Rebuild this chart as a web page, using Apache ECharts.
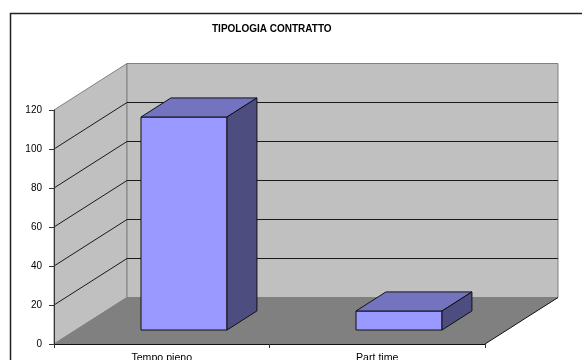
<!DOCTYPE html>
<html>
<head>
<meta charset="utf-8">
<script src="https://cdn.jsdelivr.net/npm/echarts@6/dist/echarts.min.js"></script>
<style>
  html, body { margin: 0; padding: 0; background: #fff; overflow: hidden; }
  #chart { width: 582px; height: 360px; }
</style>
</head>
<body>
<div id="chart"></div>
<script>
const categories = ['Tempo pieno', 'Part time'];
const values = [109, 10];
const yTicks = [0, 20, 40, 60, 80, 100, 120];

// offset of the back wall from the front plane
const depthX = 73;
const depthY = -46.5;
// bars sit 0.3 into the depth and take 0.4 of it
const barStart = 0.3;
const barDepth = 0.41;
const barWidth = 0.4;

function renderWalls(params, api) {
  const grid = params.coordSys;
  const left = grid.x;
  const right = grid.x + grid.width;
  const y0 = api.coord([0, 0])[1];
  const yTop = grid.y;
  const edge = { stroke: '#808080', lineWidth: 1 };
  return {
    type: 'group',
    children: [
      { type: 'polygon', shape: { points: [[left, y0], [left + depthX, y0 + depthY], [left + depthX, yTop + depthY], [left, yTop]] },
        style: { fill: '#c0c0c0', stroke: '#808080', lineWidth: 1 } },
      { type: 'rect', shape: { x: left + depthX, y: yTop + depthY, width: grid.width, height: y0 - yTop },
        style: { fill: '#c0c0c0', stroke: '#808080', lineWidth: 1 } },
      { type: 'polygon', shape: { points: [[left, y0], [right, y0], [right + depthX, y0 + depthY], [left + depthX, y0 + depthY]] },
        style: { fill: '#808080', stroke: 'none' } },
      { type: 'polyline', shape: { points: [[left, y0], [left + depthX, y0 + depthY], [right + depthX, y0 + depthY]] }, style: { fill: 'none', ...edge } },
      { type: 'line', shape: { x1: right, y1: y0, x2: right + depthX, y2: y0 + depthY }, style: { stroke: '#111', lineWidth: 1 } }
    ]
  };
}

function renderGridLine(params, api) {
  const grid = params.coordSys;
  const v = api.value(0);
  const y = Math.round(api.coord([0, v])[1]);
  const x = grid.x;
  return {
    type: 'polyline',
    shape: { points: [[x, y], [x + depthX, y + depthY], [x + grid.width + depthX, y + depthY]] },
    style: { fill: 'none', stroke: '#1a1a1a', lineWidth: 1 }
  };
}

function renderBar(params, api) {
  const center = api.coord([api.value(0), 0]);
  const top = api.coord([api.value(0), api.value(1)]);
  const w = api.size([1, 0])[0] * barWidth;
  const x0 = Math.round(center[0] - w / 2 + depthX * barStart);
  const x1 = Math.round(center[0] + w / 2 + depthX * barStart);
  const yb = Math.round(center[1] + depthY * barStart);
  const yt = Math.round(top[1] + depthY * barStart);
  const dx = depthX * barDepth;
  const dy = depthY * barDepth;
  const line = { stroke: '#111', lineWidth: 1, lineJoin: 'round' };
  return {
    type: 'group',
    children: [
      { type: 'rect', shape: { x: x0, y: yt, width: x1 - x0, height: yb - yt }, style: { fill: '#9999ff', ...line } },
      { type: 'polygon', shape: { points: [[x0, yt], [x1, yt], [x1 + dx, yt + dy], [x0 + dx, yt + dy]] }, style: { fill: '#7373bf', ...line } },
      { type: 'polygon', shape: { points: [[x1, yt], [x1 + dx, yt + dy], [x1 + dx, yb + dy], [x1, yb]] }, style: { fill: '#4d4d80', ...line } }
    ]
  };
}

let chart = echarts.init(document.getElementById('chart'), null, { renderer: 'canvas' });
let option = {
  animation: false,
  backgroundColor: '#fff',
  textStyle: { fontFamily: '"Liberation Sans", Arial, sans-serif' },
  title: {
    text: 'TIPOLOGIA CONTRATTO',
    left: 207,
    top: 19,
    textStyle: { fontFamily: '"Liberation Sans", Arial, sans-serif', fontSize: 10, fontWeight: 'bold', color: '#000' }
  },
  graphic: [
    { type: 'rect', z: 20, silent: true, shape: { x: 10.5, y: 13.5, width: 620, height: 400 },
      style: { fill: 'none', stroke: '#222', lineWidth: 1.5 } }
  ],
  grid: { left: 54, right: 97, top: 110, bottom: 16, outerBoundsMode: 'none' },
  xAxis: {
    type: 'category',
    data: categories,
    z: 5,
    axisLine: { lineStyle: { color: '#111', width: 1 } },
    axisTick: { show: true, length: 4, alignWithLabel: false, lineStyle: { color: '#333' } },
    axisLabel: { interval: 0, margin: 9, fontSize: 10.6, color: '#000' }
  },
  yAxis: {
    type: 'value',
    min: 0,
    max: 120,
    interval: 20,
    z: 5,
    axisLine: { show: true, lineStyle: { color: '#333', width: 1 } },
    axisTick: { show: true, length: 5, lineStyle: { color: '#333' } },
    axisLabel: { margin: 12, fontSize: 10, color: '#000' },
    splitLine: { show: false }
  },
  series: [
    { type: 'custom', z: 1, clip: false, silent: true, renderItem: renderWalls, data: [[0]] },
    { type: 'custom', z: 2, clip: false, silent: true, renderItem: renderGridLine,
      data: yTicks.slice(1, -1).map(v => [v]), encode: { y: 0 } },
    { type: 'custom', z: 3, clip: false, renderItem: renderBar,
      data: categories.map((c, i) => [i, values[i]]), encode: { x: 0, y: 1 } }
  ]
};
chart.setOption(option);
</script>
</body>
</html>
